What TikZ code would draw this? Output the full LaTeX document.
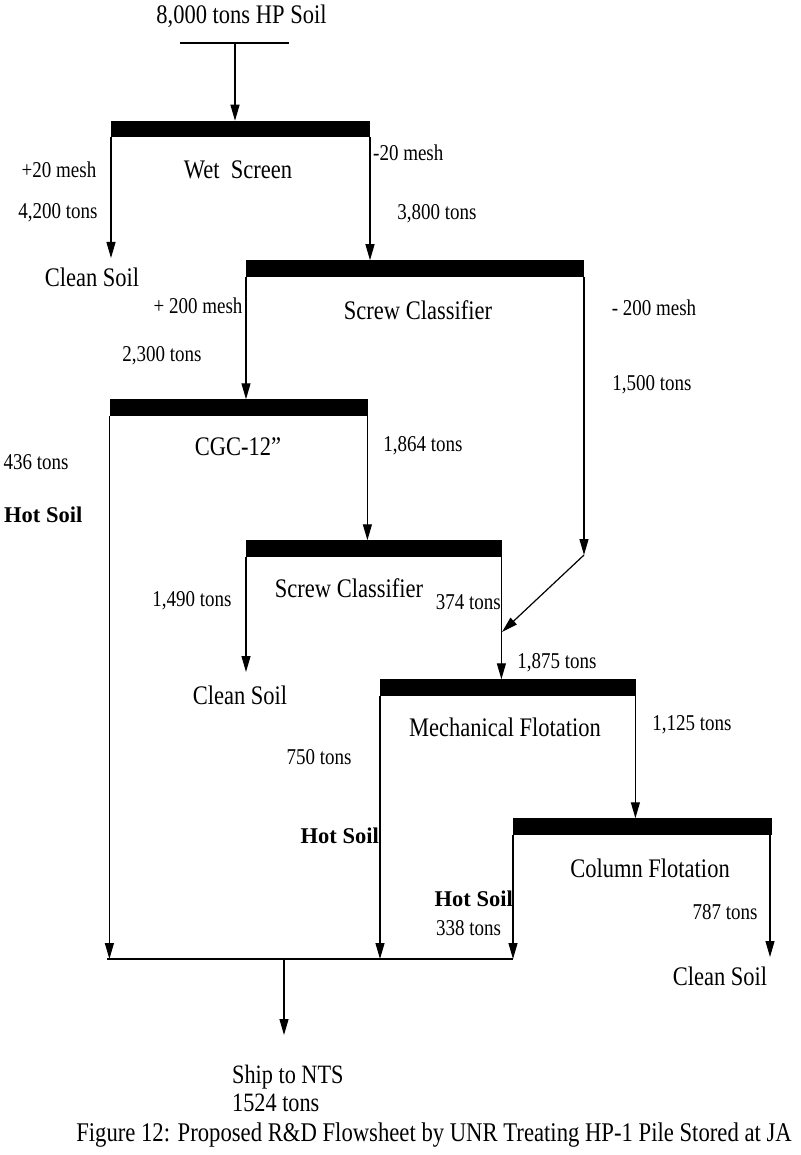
\documentclass[tikz,border=0pt]{standalone}
\usepackage{fontspec}
\setmainfont{Liberation Serif}[FakeStretch=0.84]
\newfontfamily\hotfont{Liberation Serif}
\usetikzlibrary{arrows.meta}
\begin{document}
\begin{tikzpicture}[x=1pt,y=-1pt,
  bar/.style={fill=black,draw=none,inner sep=0pt,outer sep=0pt,minimum height=16.5pt},
  flow/.style={line width=1.2pt,-{Triangle[length=16pt,width=9pt]}},
  plain/.style={line width=1.3pt},
  big/.style={font=\fontsize{26.8}{30}\selectfont,inner sep=0pt},
  small/.style={font=\fontsize{22.6}{26}\selectfont,inner sep=0pt},
  hot/.style={font=\hotfont\bfseries\fontsize{22.5}{25}\selectfont,inner sep=0pt}]
\useasboundingbox[fill=white] (0,0) rectangle (800,1155);

% process bars
\node[bar,minimum width=259pt] (ws)  at (240.5,129) {};
\node[bar,minimum width=338pt] (sc1) at (415,268.5) {};
\node[bar,minimum width=258pt] (cgc) at (239,407.5) {};
\node[bar,minimum width=256pt] (sc2) at (374,548.5) {};
\node[bar,minimum width=256pt] (mf)  at (508,687.5) {};
\node[bar,minimum width=259pt] (cf)  at (642.5,826.5) {};

% big texts
\node[big] (feedtxt) at (241.5,16) {8,000 tons HP Soil};
\node[big] (wst) at (238,170) {Wet\ \ Screen};
\node[big] (clean1) at (92,277) {Clean Soil};
\node[big] (sc1t) at (418,310) {Screw Classifier};
\node[big] (cgct) at (238,447) {CGC-12”};
\node[big] (sc2t) at (349,588) {Screw Classifier};
\node[big] (clean2) at (240,695) {Clean Soil};
\node[big] (mft) at (505,727) {Mechanical Flotation};
\node[big] (cft) at (650,868) {Column Flotation};
\node[big] (clean3) at (720,976) {Clean Soil};
\node[big,align=left,anchor=west,font=\fontsize{26.5}{28}\selectfont] (ship) at (232,1088) {Ship to NTS\\1524 tons};
\node[big,font=\fontsize{27}{30}\selectfont] (caption) at (434,1135) {Figure 12: Proposed R\&D Flowsheet by UNR Treating HP-1 Pile Stored at JA};

% small labels
\node[small] (l1) at (59,170) {+20 mesh};
\node[small] (l2) at (58,213) {4,200 tons};
\node[small,anchor=west] (l3) at (373,153) {-20 mesh};
\node[small] (l4) at (437,214) {3,800 tons};
\node[small] (l5) at (198,306) {+ 200 mesh};
\node[small] (l6) at (162,356) {2,300 tons};
\node[small] (l7) at (654,308) {- 200 mesh};
\node[small] (l8) at (652,385) {1,500 tons};
\node[small] (l9) at (36,462) {436 tons};
\node[small] (l10) at (423,446) {1,864 tons};
\node[small] (l11) at (192,601) {1,490 tons};
\node[small,anchor=east] (l12) at (501,602) {374 tons};
\node[small] (l13) at (557,663) {1,875 tons};
\node[small] (l14) at (692,725) {1,125 tons};
\node[small] (l15) at (319,757) {750 tons};
\node[small,anchor=west] (l16) at (436,928) {338 tons};
\node[small] (l17) at (725,912) {787 tons};

% bold labels
\node[hot,anchor=west] (hot1) at (4,515) {Hot Soil};
\node[hot,anchor=east] (hot2) at (379,836) {Hot Soil};
\node[hot,anchor=east] (hot3) at (513,899) {Hot Soil};

% coordinates
\coordinate (fl) at (180,43);
\coordinate (fr) at (289,43);
\coordinate (feed) at (235,43);
\coordinate (t1) at (111,258);
\coordinate (t2) at (246,672);
\coordinate (bend) at (584,555);
\coordinate (join) at (502,632);
\coordinate (ml) at (107,959);
\coordinate (mr) at (513,959);
\coordinate (mo) at (284,959);
\coordinate (out) at (284,1035);
\coordinate (t3) at (770,957);

% feed
\draw[plain] (fl) -- (fr);
\draw[flow] (feed) -- (feed |- ws.north);
% wet screen
\draw[flow] (ws.south west) -- (t1);
\draw[flow] (ws.south east) -- (ws.south east |- sc1.north);
% screw classifier 1
\draw[flow] (sc1.south west) -- (sc1.south west |- cgc.north);
\draw[flow] (sc1.south east) -- (bend);
\draw[flow] (bend) -- (join);
% CGC
\draw[flow] ([xshift=-0.6pt]cgc.south west) -- ([xshift=-0.6pt]cgc.south west |- ml);
\draw[flow] ([xshift=-0.6pt]cgc.south east) -- ([xshift=-0.6pt]cgc.south east |- sc2.north);
% screw classifier 2
\draw[flow] (sc2.south west) -- (t2);
\draw[flow] ([xshift=-0.6pt]sc2.south east) -- ([xshift=-0.6pt]sc2.south east |- mf.north);
% mechanical flotation
\draw[flow] (mf.south west) -- (mf.south west |- ml);
\draw[flow] ([xshift=-0.6pt]mf.south east) -- ([xshift=-0.6pt]mf.south east |- cf.north);
% column flotation
\draw[flow] (cf.south west) -- (mr);
\draw[flow] ([xshift=-2pt]cf.south east) -- (t3);
% mixing line and output
\draw[line width=2.2pt] (ml) -- (mr);
\draw[flow] (mo) -- (out);
\end{tikzpicture}
\end{document}
